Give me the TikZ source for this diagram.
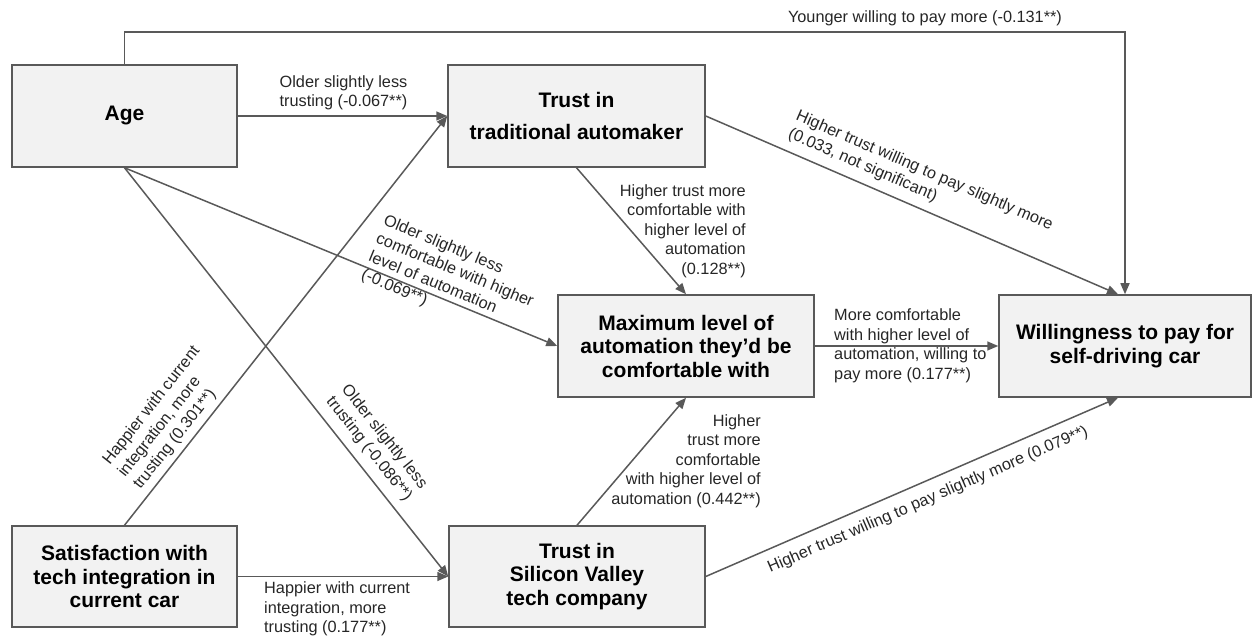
\documentclass[tikz,border=0pt]{standalone}
\usepackage{fontspec}
\setmainfont{Liberation Sans}
\usetikzlibrary{arrows.meta,calc}
\definecolor{boxfill}{HTML}{F2F2F2}
\definecolor{edgegray}{HTML}{595959}
\definecolor{labeltext}{HTML}{262626}
\begin{document}
\begin{tikzpicture}[x=1pt,y=-1pt,
  box/.style={draw=edgegray, line width=1.5pt, fill=boxfill, align=center,
    font=\fontsize{21}{23.5}\selectfont\bfseries, inner sep=0pt, minimum height=102pt},
  conn/.style={draw=edgegray, line width=1.5pt, -{Triangle[length=11pt,width=9pt]}},
  lbl/.style={font=\fontsize{16.3}{19.5}\selectfont, text=labeltext, inner sep=0pt},
]
\useasboundingbox (0,0) rectangle (1254,636);

% boxes
\node[box, minimum width=225pt] (age) at (124.5,116) {Age};
\node[box, minimum width=257pt] (trad) at (576.5,116) {Trust in\\[8pt]traditional automaker};
\node[box, minimum width=256pt] (max) at (686,346) {Maximum level of\\automation they’d be\\comfortable with};
\node[box, minimum width=252pt] (will) at (1125,346) {Willingness to pay for\\self-driving car};
\node[box, minimum width=225pt, minimum height=101pt] (sat) at (124.5,576.5) {Satisfaction with\\tech integration in\\current car};
\node[box, minimum width=256pt, minimum height=101pt] (sv) at (577,576.5) {Trust in\\Silicon Valley\\tech company};

% helper coordinates
\coordinate (topbar) at (0,32);
\coordinate (willin1) at ($(will.north)+(-7,0)$);
\coordinate (willin2) at ($(will.south)+(-7,0)$);

% connectors
\draw[conn] (age.north) -- (age.north |- topbar) -- (will.north |- topbar) -- (will.north);
\draw[conn] (age.east) -- (trad.west);
\draw[conn] (age.south) -- (max.west);
\draw[conn] (age.south) -- (sv.west);
\draw[conn] (sat.north) -- (trad.west);
\draw[conn] (sat.east) -- (sv.west);
\draw[conn] (trad.south) -- (max.north);
\draw[conn] (trad.east) -- (willin1);
\draw[conn] (max.east) -- (will.west);
\draw[conn] (sv.north) -- (max.south);
\draw[conn] (sv.east) -- (willin2);

% labels
\node[lbl, anchor=base] (lyoung) at (925,23) {Younger willing to pay more (-0.131**)};
\node[lbl, align=center] (lagetrad) at (343.5,93) {Older slightly less\\trusting (-0.067**)};
\node[lbl, align=left, rotate=-22.4] (lagemax) at (451,280) {Older slightly less\\comfortable with higher\\level of automation\\(-0.069**)};
\node[lbl, align=left, rotate=51.7] (lsattrad) at (167,418) {Happier with current\\integration, more\\trusting (0.301**)};
\node[lbl, align=left, rotate=-51.6] (lagesv) at (376.5,443) {Older slightly less\\trusting (-0.086**)};
\node[lbl, align=left, rotate=-23.4] (ltradwill) at (920.5,180) {Higher trust willing to pay slightly more\\(0.033, not significant)};
\node[lbl, rotate=23.4] (lsvwill) at (928,500) {Higher trust willing to pay slightly more (0.079**)};
\node[lbl, align=right, anchor=east] (ltradmax) at (746,231) {Higher trust more\\comfortable with\\higher level of\\automation\\(0.128**)};
\node[lbl, align=left, anchor=west] (lmaxwill) at (834,346) {More comfortable\\with higher level of\\automation, willing to\\pay more (0.177**)};
\node[lbl, align=right, anchor=east] (lsvmax) at (761,461) {Higher\\trust more\\comfortable\\with higher level of\\automation (0.442**)};
\node[lbl, align=left, anchor=west] (lsatsv) at (264,609) {Happier with current\\integration, more\\trusting (0.177**)};
\end{tikzpicture}
\end{document}
